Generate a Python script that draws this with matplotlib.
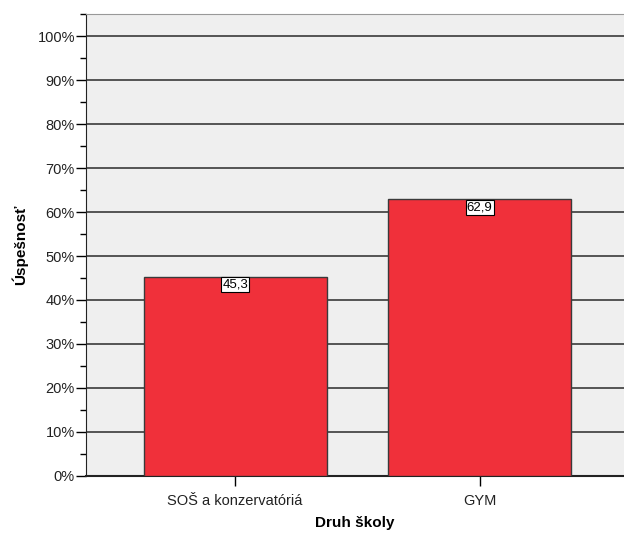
import matplotlib.pyplot as plt
from matplotlib.ticker import MultipleLocator, PercentFormatter

plt.rcParams['font.family'] = ['Liberation Sans Narrow', 'Liberation Sans', 'DejaVu Sans']

skoly = ["SOŠ a konzervatóriá", "GYM"]
uspesnost = [45.3, 62.9]

fig = plt.figure(figsize=(6.24, 5.35), dpi=100)
ax = fig.add_axes([0.1378, 0.1103, 0.8622, 0.8635])
ax.set_facecolor("#efefef")

x = range(len(skoly))
ax.bar(x, uspesnost, width=0.747, color="#f0303a", edgecolor="#3a3a3a", linewidth=1, zorder=3)

for i, v in zip(x, uspesnost):
    ax.annotate(("%.1f" % v).replace(".", ","), xy=(i, v), xytext=(0, -1.5), textcoords="offset points",
                ha="center", va="top", fontsize=9.5, zorder=5,
                bbox=dict(boxstyle="square,pad=0.1", fc="white", ec="black", lw=0.8))

ax.set_xlim(-0.61, 1.59)
ax.set_ylim(0, 105)
ax.yaxis.set_major_locator(MultipleLocator(10))
ax.yaxis.set_minor_locator(MultipleLocator(5))
ax.yaxis.set_major_formatter(PercentFormatter(decimals=0))
ax.grid(axis="y", which="major", color="#3a3a3a", linewidth=1.2, zorder=1)

ax.set_xticks(list(x))
ax.set_xticklabels(skoly, fontsize=10.5, color="#222222")
ax.tick_params(axis="y", which="major", length=7, width=1, labelsize=10.5, labelcolor="#222222", pad=1)
ax.tick_params(axis="y", which="minor", length=4, width=1)
ax.tick_params(axis="x", length=7, width=1, pad=6)

ax.spines["right"].set_visible(False)
ax.spines["top"].set_color("#999999")
ax.spines["left"].set_color("#222222")
ax.spines["bottom"].set_color("#222222")
ax.spines["bottom"].set_linewidth(1.5)

ax.set_xlabel("Druh školy", fontsize=11, fontweight="bold", labelpad=6)
ax.set_ylabel("Úspešnosť", fontsize=11, fontweight="bold", labelpad=7)

fig.savefig("out.png", dpi=100)
